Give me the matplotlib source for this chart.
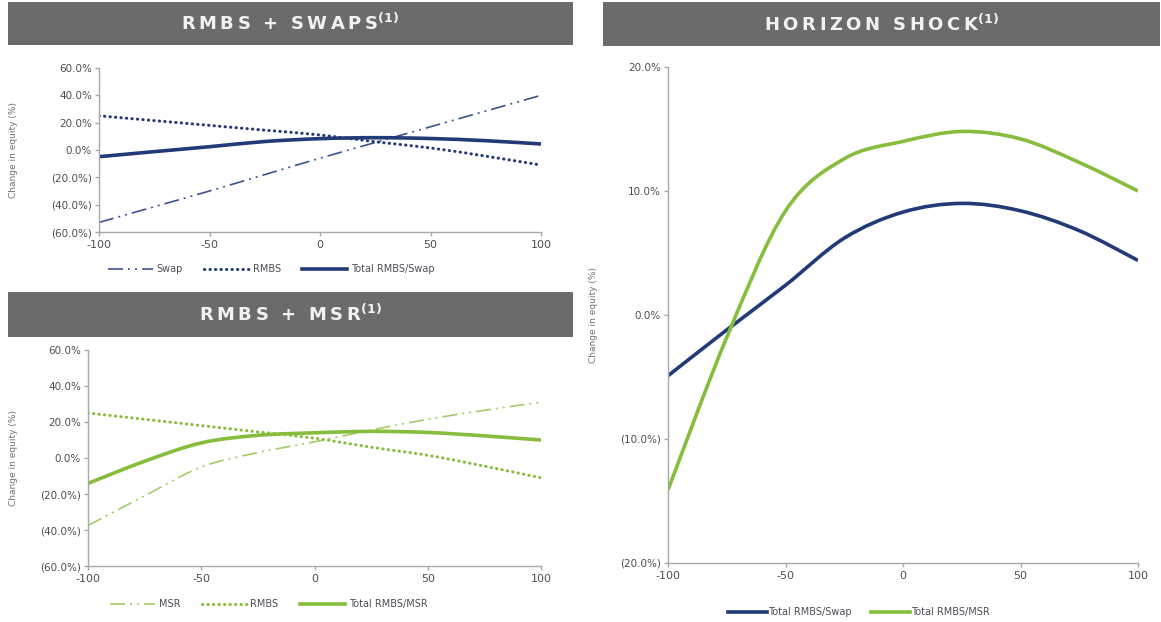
"""
    Rate shock sensitivity charts: RMBS + swaps, RMBS + MSR, horizon shock.
"""

import matplotlib
matplotlib.use('Agg')
import matplotlib.pyplot as plt
from matplotlib.path import Path
from matplotlib.patches import PathPatch, Rectangle
from matplotlib.lines import Line2D
from matplotlib.ticker import FuncFormatter

# ============================================================
# Data
# ============================================================

shock_bps = [-100, -75, -50, -25, 0, 25, 50, 75, 100]

swap_pct = [-53.0, -41.5, -30.0, -18.0, -6.0, 5.5, 17.0, 28.5, 40.0]
rmbs_pct = [25.0, 21.5, 18.0, 14.5, 11.0, 6.0, 1.5, -4.5, -11.0]
total_swap_pct = [-4.9, -1.2, 2.4, 6.2, 8.3, 9.0, 8.4, 6.8, 4.4]

msr_pct = [-37.5, -21.0, -5.0, 3.0, 9.0, 15.5, 21.5, 26.5, 31.0]
total_msr_pct = [-14.1, -1.8, 8.4, 12.6, 14.0, 14.8, 14.2, 12.3, 10.0]

NAVY = '#223a78'
NAVY_LIGHT = '#3f5290'
GREEN = '#86bd3c'
GREEN_LIGHT = '#a2cc68'
HEADER_GRAY = '#6b6b6b'
TICK_COLOR = '#4d4d55'
SPINE_COLOR = '#a8a8a8'

DASH_DOT_DOT = (0, (9, 3, 1.2, 3, 1.2, 3))
DOTTED = (0, (0.1, 1.7))

plt.rcParams['mathtext.default'] = 'regular'
plt.rcParams['axes.unicode_minus'] = False
plt.rcParams['font.family'] = ['DejaVu Sans']


def smooth_path(xs, ys):
    """
        Build a Bezier path through the points (Excel style smoothed line).
    """
    n = len(xs)
    verts = [(xs[0], ys[0])]
    codes = [Path.MOVETO]
    for i in range(n - 1):
        x0, y0 = (xs[i - 1], ys[i - 1]) if i > 0 else (xs[i], ys[i])
        x1, y1 = xs[i], ys[i]
        x2, y2 = xs[i + 1], ys[i + 1]
        x3, y3 = (xs[i + 2], ys[i + 2]) if i + 2 < n else (x2, y2)
        c1 = (x1 + (x2 - x0) / 6, y1 + (y2 - y0) / 6)
        c2 = (x2 - (x3 - x1) / 6, y2 - (y3 - y1) / 6)
        verts += [c1, c2, (x2, y2)]
        codes += [Path.CURVE4] * 3
    return Path(verts, codes)


def draw_series(ax, ys, color, lw, ls):
    cap = 'round' if ls == DOTTED else 'butt'
    patch = PathPatch(smooth_path(shock_bps, ys), facecolor='none', edgecolor=color,
                      lw=lw, linestyle=ls, capstyle=cap, joinstyle='round')
    ax.add_patch(patch)
    return Line2D([], [], color=color, lw=lw, linestyle=ls, dash_capstyle=cap)


def pct_fmt(v, _pos):
    if v < 0:
        return f'({abs(v):.1f}%)'
    return f'{v:.1f}%'


def style_axes(ax, ylim, yticks, label_x):
    ax.set_xlim(-100, 100)
    ax.set_ylim(*ylim)
    ax.set_xticks([-100, -50, 0, 50, 100])
    ax.set_yticks(yticks)
    ax.yaxis.set_major_formatter(FuncFormatter(pct_fmt))
    for side in ('top', 'right'):
        ax.spines[side].set_visible(False)
    for side in ('left', 'bottom'):
        ax.spines[side].set_color(SPINE_COLOR)
        ax.spines[side].set_linewidth(1.0)
    ax.tick_params(axis='both', colors=SPINE_COLOR, length=3, width=1.0,
                   labelcolor=TICK_COLOR)
    ax.tick_params(axis='y', labelsize=7.5, pad=2)
    ax.tick_params(axis='x', labelsize=8, pad=3)
    ax.set_ylabel('Change in equity (%)', fontsize=6.5, color='#707070')
    ax.yaxis.set_label_coords(label_x, 0.5)


def spaced(text):
    # letter-spaced header text
    return '  '.join('\u2009'.join(word) for word in text.split(' '))


def header(fig, x0, y0, x1, y1, title):
    W, H = 1161, 622
    fig.add_artist(Rectangle((x0 / W, 1 - y1 / H), (x1 - x0) / W, (y1 - y0) / H,
                             transform=fig.transFigure, facecolor=HEADER_GRAY,
                             edgecolor='none'))
    fig.text((x0 + x1) / 2 / W, 1 - (y0 + y1) / 2 / H, spaced(title) + '$^{(1)}$',
             ha='center', va='center', color='#f2f2f2', fontsize=13, fontweight='bold')


fig = plt.figure(figsize=(11.61, 6.22), dpi=100)

# Panel 1: RMBS + swaps
ax1 = fig.add_axes([0.0853, 0.627, 0.3807, 0.2637])
h1 = [draw_series(ax1, swap_pct, NAVY_LIGHT, 1.2, DASH_DOT_DOT),
      draw_series(ax1, rmbs_pct, NAVY, 2.2, DOTTED),
      draw_series(ax1, total_swap_pct, NAVY, 2.6, '-')]
style_axes(ax1, (-60, 60), [-60, -40, -20, 0, 20, 40, 60], -0.183)
ax1.legend(h1, ['Swap', 'RMBS', 'Total RMBS/Swap'], loc='center left',
           bbox_to_anchor=(0.0, -0.225), ncol=3, frameon=False, fontsize=7,
           handlelength=4.6, handletextpad=0.4, columnspacing=2.2,
           labelcolor=TICK_COLOR)

# Panel 2: RMBS + MSR
ax2 = fig.add_axes([0.0758, 0.09, 0.3902, 0.3473])
h2 = [draw_series(ax2, msr_pct, GREEN_LIGHT, 1.2, DASH_DOT_DOT),
      draw_series(ax2, rmbs_pct, GREEN, 2.2, DOTTED),
      draw_series(ax2, total_msr_pct, GREEN, 2.6, '-')]
style_axes(ax2, (-60, 60), [-60, -40, -20, 0, 20, 40, 60], -0.155)
ax2.legend(h2, ['MSR', 'RMBS', 'Total RMBS/MSR'], loc='center left',
           bbox_to_anchor=(0.03, -0.176), ncol=3, frameon=False, fontsize=7,
           handlelength=4.6, handletextpad=0.4, columnspacing=2.2,
           labelcolor=TICK_COLOR)

# Panel 3: horizon shock
ax3 = fig.add_axes([0.5754, 0.0949, 0.4048, 0.7974])
h3 = [draw_series(ax3, total_swap_pct, NAVY, 2.6, '-'),
      draw_series(ax3, total_msr_pct, GREEN, 2.6, '-')]
style_axes(ax3, (-20, 20), [-20, -10, 0, 10, 20], -0.149)
ax3.legend(h3, ['Total RMBS/Swap', 'Total RMBS/MSR'], loc='center left',
           bbox_to_anchor=(0.11, -0.099), ncol=2, frameon=False, fontsize=7,
           handlelength=4.0, handletextpad=0.1, columnspacing=2.0,
           labelcolor=TICK_COLOR)

header(fig, 8, 2, 573, 45, 'RMBS + SWAPS')
header(fig, 8, 292, 573, 337, 'RMBS + MSR')
header(fig, 603, 2, 1160, 46, 'HORIZON SHOCK')

fig.savefig('out.png', dpi=100)
